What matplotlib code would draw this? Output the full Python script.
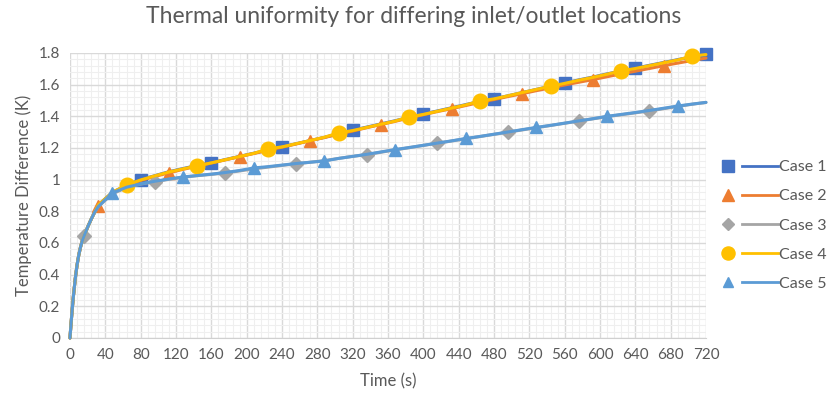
import numpy as np
import matplotlib.pyplot as plt
from matplotlib.lines import Line2D
from matplotlib.legend_handler import HandlerTuple
from matplotlib.ticker import MultipleLocator

plt.rcParams['font.family'] = ['Lato', 'DejaVu Sans']

# Start-up transient, common to every case (s, K)
t_early = [0, 1, 2, 3, 4, 6, 8, 10, 12, 14, 16, 20, 24, 28]
y_early = [0, 0.075, 0.145, 0.21, 0.27, 0.375, 0.46, 0.525, 0.575, 0.615,
           0.645, 0.70, 0.75, 0.795]

# After that, sampled every 16 s from 32 s to 720 s
t_main = list(range(32, 721, 16))

case1 = [0.84, 0.92, 0.965, 1.00, 1.025, 1.05, 1.07, 1.09,
         1.107, 1.127, 1.147, 1.167, 1.187, 1.207, 1.227, 1.247, 1.267, 1.29,
         1.312, 1.332, 1.352, 1.372, 1.394, 1.414, 1.434, 1.454, 1.474, 1.494,
         1.51, 1.53, 1.55, 1.57, 1.59, 1.61, 1.63, 1.648, 1.668, 1.686,
         1.704, 1.722, 1.74, 1.758, 1.776, 1.794]
case2 = [0.835, 0.915, 0.96, 0.995, 1.02, 1.043, 1.065, 1.085,
         1.105, 1.125, 1.145, 1.165, 1.185, 1.205, 1.225, 1.246, 1.266, 1.287,
         1.307, 1.328, 1.348, 1.368, 1.39, 1.41, 1.43, 1.448, 1.468, 1.488,
         1.506, 1.525, 1.543, 1.562, 1.58, 1.598, 1.615, 1.632, 1.65, 1.668,
         1.685, 1.702, 1.72, 1.736, 1.752, 1.768]
case3 = [0.83, 0.91, 0.95, 0.972, 0.987, 1.002, 1.015, 1.025,
         1.033, 1.042, 1.055, 1.068, 1.079, 1.09, 1.10, 1.11, 1.12, 1.134,
         1.147, 1.158, 1.173, 1.188, 1.202, 1.216, 1.23, 1.244, 1.258, 1.272,
         1.286, 1.30, 1.314, 1.328, 1.342, 1.356, 1.37, 1.384, 1.398, 1.41,
         1.422, 1.434, 1.448, 1.462, 1.476, 1.488]
case4 = [0.84, 0.92, 0.966, 0.998, 1.024, 1.048, 1.068, 1.087,
         1.106, 1.126, 1.146, 1.166, 1.194, 1.207, 1.227, 1.247, 1.268, 1.295,
         1.31, 1.33, 1.35, 1.37, 1.396, 1.412, 1.432, 1.452, 1.472, 1.497,
         1.51, 1.53, 1.55, 1.57, 1.59, 1.608, 1.628, 1.646, 1.666, 1.687,
         1.702, 1.72, 1.738, 1.756, 1.78, 1.79]
case5 = [0.83, 0.916, 0.952, 0.973, 0.99, 1.004, 1.017, 1.026,
         1.035, 1.045, 1.058, 1.074, 1.082, 1.092, 1.102, 1.11, 1.118, 1.134,
         1.147, 1.16, 1.175, 1.19, 1.203, 1.217, 1.231, 1.245, 1.26, 1.273,
         1.287, 1.301, 1.316, 1.33, 1.343, 1.357, 1.371, 1.385, 1.40, 1.412,
         1.424, 1.437, 1.451, 1.465, 1.477, 1.488]

labels = ['Case 1', 'Case 2', 'Case 3', 'Case 4', 'Case 5']
colors = ['#4472C4', '#ED7D31', '#A5A5A5', '#FFC000', '#5B9BD5']
markers = ['s', '^', 'D', 'o', '^']
msizes = [9, 9, 7, 10.5, 8]
# time of the first marker for each case; markers then repeat every 80 s
mfirst = [80, 32, 16, 64, 48]
series = [case1, case2, case3, case4, case5]

t = np.array(t_early + t_main)

fig = plt.figure(figsize=(8.33, 3.96), dpi=100, facecolor='w')
ax = fig.add_axes([0.084, 0.1465, 0.7635, 0.7197])

handles = []
for y, lab, c, m, ms, t0 in zip(series, labels, colors, markers, msizes, mfirst):
    yy = np.array(y_early + y)
    idx = np.where((t >= t0) & ((t - t0) % 80 == 0))[0]
    ax.plot(t, yy, color=c, lw=2.2, marker=m, ms=ms, mec=c, mfc=c,
            markevery=list(idx), solid_capstyle='round', solid_joinstyle='round',
            zorder=3, clip_on=False)
    hm = Line2D([], [], ls='none', marker=m, ms=ms * 0.9, color=c)
    hl = Line2D([], [], color=c, lw=2)
    handles.append((hm, hl))

ax.set_xlim(0, 720)
ax.set_ylim(0, 1.8)
ax.xaxis.set_major_locator(MultipleLocator(40))
ax.xaxis.set_minor_locator(MultipleLocator(8))
ax.yaxis.set_minor_locator(MultipleLocator(0.04))
ax.set_yticks(np.arange(0, 1.81, 0.2))
ax.set_yticklabels(['0', '0.2', '0.4', '0.6', '0.8', '1', '1.2', '1.4', '1.6', '1.8'])

ax.grid(which='major', color='#D9D9D9', lw=1.0)
ax.grid(which='minor', color='#EFEFEF', lw=0.8)
ax.set_axisbelow(True)
ax.tick_params(which='both', length=0, labelsize=11, colors='#595959', pad=7)
for spine in ('top', 'right', 'left'):
    ax.spines[spine].set_visible(False)
ax.spines['bottom'].set_color('#D0D0D0')

ax.set_xlabel('Time (s)', fontsize=12, color='#595959', labelpad=8)
ax.set_ylabel('Temperature Difference (K)', fontsize=12, color='#595959', labelpad=5)
fig.suptitle('Thermal uniformity for differing inlet/outlet locations',
             x=0.496, y=0.985, fontsize=16.5, color='#595959')

leg = ax.legend(handles, labels, handler_map={tuple: HandlerTuple(ndivide=None, pad=-0.23)},
                loc='center left', bbox_to_anchor=(1.0, 0.395), frameon=False,
                handlelength=4.25, labelspacing=0.94, fontsize=11.5, handletextpad=0.1,
                borderaxespad=0, borderpad=0.25)
for txt in leg.get_texts():
    txt.set_color('#595959')

fig.savefig('out.png', dpi=100)
